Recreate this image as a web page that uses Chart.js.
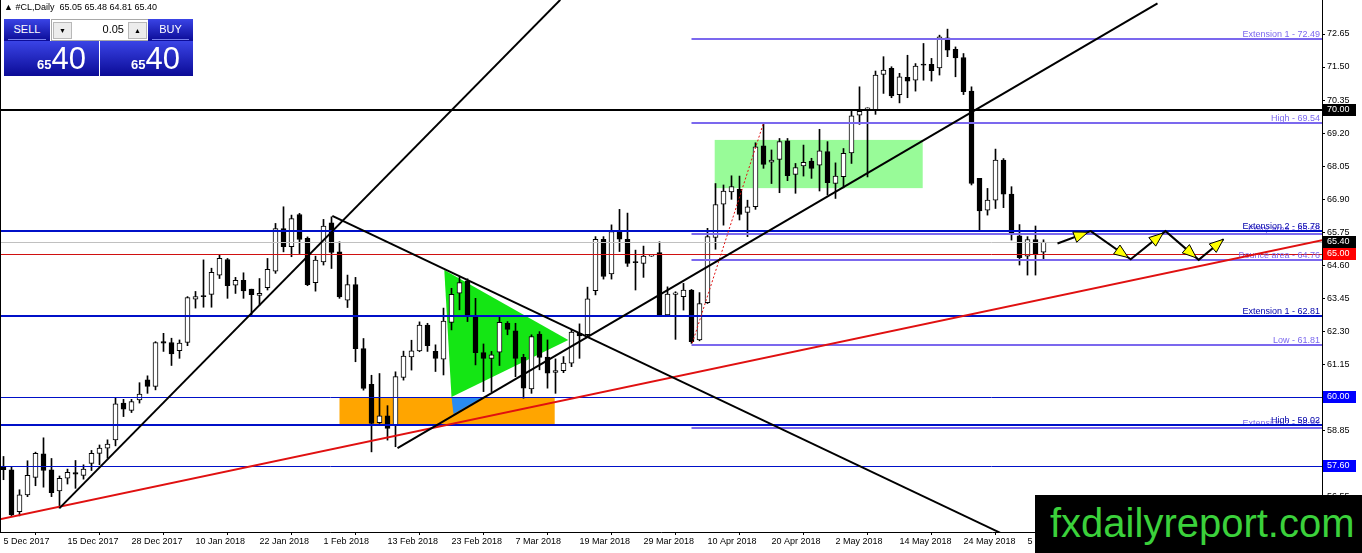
<!DOCTYPE html>
<html>
<head>
<meta charset="utf-8">
<script src="https://cdn.jsdelivr.net/npm/chart.js@4.4.1/dist/chart.umd.min.js"></script>
<style>
  html, body { margin: 0; padding: 0; background: #fff; }
  #wrap { position: relative; width: 1362px; height: 553px; overflow: hidden; font-family: "Liberation Sans", Arial, sans-serif; }
  #chart { position: absolute; left: 0; top: 0; }
  .title { position: absolute; left: 4px; top: 2px; font-size: 9px; color: #000; white-space: pre; }
  .blue { position: absolute; background: linear-gradient(#3a44e6, #0b0b96); color: #fff; }
  .tab { font-size: 11px; text-align: center; line-height: 21px; }
  .tab span { display: block; margin: 0 4px; border-bottom: 1px solid #7a82ee; line-height: 20px; }
  .spin { position: absolute; left: 51px; top: 19px; width: 96px; height: 20px; background: #fff; border: 1px solid #a8a8a8; }
  .btn { position: absolute; top: 2px; width: 17px; height: 15px; background: #ececec; border: 1px solid #b8b8b8; font-size: 7px; text-align: center; line-height: 15px; color: #000; }
  .val { position: absolute; right: 24px; top: 3px; font-size: 11px; color: #000; }
  .price { text-align: right; padding-right: 13px; box-sizing: border-box; line-height: 35px; white-space: nowrap; }
  .price b { font-size: 13px; }
  .price i { font-style: normal; font-size: 31px; }
  .logo { position: absolute; left: 1035px; top: 495px; width: 327px; height: 58px; background: #000; color: #3bd13b; font-size: 40px; line-height: 56px; padding-left: 15px; box-sizing: border-box; }
</style>
</head>
<body>
<div id="wrap">
  <canvas id="chart" width="1362" height="553"></canvas>
  <div class="title">&#9650; #CL,Daily  65.05 65.48 64.81 65.40</div>
  <div class="blue tab" style="left:4px;top:19px;width:46px;height:22px"><span>SELL</span></div>
  <div class="spin">
    <div class="btn" style="left:1px">&#9660;</div>
    <div class="val">0.05</div>
    <div class="btn" style="right:1px">&#9650;</div>
  </div>
  <div class="blue tab" style="left:148px;top:19px;width:45px;height:22px"><span>BUY</span></div>
  <div class="blue price" style="left:4px;top:41px;width:95px;height:35px"><b>65</b><i>40</i></div>
  <div class="blue price" style="left:100px;top:41px;width:93px;height:35px"><b>65</b><i>40</i></div>
  <div class="logo">fxdailyreport.com</div>
</div>
<script>
// #CL daily candles, 5 Dec 2017 - 6 Jun 2018
const dateLabels = ['5 Dec 2017', '15 Dec 2017', '28 Dec 2017', '10 Jan 2018', '22 Jan 2018', '1 Feb 2018',
    '13 Feb 2018', '23 Feb 2018', '7 Mar 2018', '19 Mar 2018', '29 Mar 2018', '10 Apr 2018', '20 Apr 2018',
    '2 May 2018', '14 May 2018', '24 May 2018', '5 Jun 2018'];
const dateIdx = dateLabels.map((d, k) => k * 8);

const opens = [57.55, 57.46, 56.01, 56.59, 57.20, 58.02, 57.46, 56.73, 57.17, 57.37,
    57.27, 57.69, 58.04, 58.22, 58.51, 59.79, 59.53, 59.90, 60.60, 60.37,
    61.93, 61.90, 61.62, 61.90, 63.41, 63.54, 63.58, 64.25, 64.79, 63.90,
    64.07, 63.76, 63.54, 63.81, 64.39, 65.87, 65.24, 66.36, 65.53, 63.99,
    64.71, 66.07, 65.06, 63.38, 63.92, 61.69, 60.44, 59.11, 59.35, 59.02,
    60.68, 61.40, 61.61, 62.51, 61.59, 61.32, 62.60, 63.62, 64.05, 62.83,
    61.55, 61.35, 61.56, 62.57, 62.31, 61.38, 60.28, 62.19, 61.39, 60.86,
    60.92, 61.18, 62.22, 62.17, 63.71, 65.50, 64.29, 65.77, 65.50, 64.70,
    64.66, 64.91, 65.03, 62.86, 63.58, 63.50, 63.73, 61.99, 63.29, 65.56,
    66.72, 67.15, 67.24, 66.43, 66.63, 68.75, 68.18, 68.28, 68.93, 67.76,
    68.05, 68.22, 68.08, 68.55, 67.44, 67.68, 68.51, 69.82, 70.04, 70.00,
    71.24, 71.45, 70.54, 71.14, 71.04, 71.59, 71.59, 71.47, 72.52, 72.12,
    71.83, 70.66, 67.62, 66.51, 66.86, 68.26, 67.07, 65.62, 64.91, 65.49,
    65.05];
const highs = [57.93, 57.58, 56.77, 57.78, 58.08, 58.58, 57.86, 57.25, 57.49, 57.79,
    57.64, 58.14, 58.33, 58.51, 59.96, 59.92, 59.92, 60.50, 60.74, 61.93,
    62.22, 62.05, 61.99, 63.50, 63.68, 64.78, 64.49, 64.95, 64.83, 64.17,
    64.33, 63.76, 64.13, 64.83, 66.05, 66.63, 66.34, 66.40, 65.58, 64.91,
    66.19, 66.28, 65.41, 64.25, 64.17, 62.04, 60.76, 60.82, 59.70, 60.88,
    61.60, 61.98, 62.62, 62.57, 61.82, 63.10, 63.79, 64.18, 64.12, 63.44,
    61.85, 61.59, 62.80, 62.63, 62.57, 61.49, 62.17, 62.28, 61.99, 61.33,
    61.41, 62.34, 62.55, 63.83, 65.59, 65.59, 66.00, 66.54, 66.41, 65.12,
    65.26, 64.93, 65.41, 63.84, 63.67, 63.96, 63.75, 63.64, 65.88, 67.44,
    67.39, 67.71, 67.70, 66.86, 68.86, 69.54, 68.61, 69.01, 69.01, 68.14,
    68.78, 68.32, 69.33, 68.90, 68.16, 68.66, 70.00, 70.81, 70.08, 71.36,
    71.86, 71.51, 71.28, 71.91, 71.62, 72.32, 71.80, 72.61, 72.82, 72.20,
    71.97, 70.81, 67.62, 67.27, 68.64, 68.31, 67.33, 66.01, 65.59, 65.96,
    65.48];
const lows = [57.12, 55.84, 55.86, 56.53, 56.91, 56.86, 56.53, 56.13, 56.97, 56.82,
    57.14, 57.44, 57.64, 57.87, 58.30, 59.32, 59.46, 59.79, 60.13, 60.25,
    61.59, 61.10, 61.35, 61.79, 63.10, 63.13, 63.13, 64.13, 63.44, 63.61,
    63.44, 62.85, 63.20, 63.73, 64.31, 65.06, 64.89, 65.00, 63.88, 63.69,
    64.60, 64.48, 63.44, 63.12, 61.23, 60.24, 58.09, 59.08, 58.50, 58.27,
    60.59, 60.94, 61.58, 61.59, 60.89, 60.77, 62.34, 63.04, 62.63, 61.12,
    60.19, 60.19, 61.10, 62.17, 60.71, 59.96, 60.13, 60.95, 60.31, 60.13,
    60.85, 61.06, 61.35, 62.13, 63.56, 64.11, 64.11, 65.07, 64.55, 63.73,
    64.17, 64.90, 62.82, 62.82, 62.01, 63.03, 61.87, 61.96, 63.26, 65.15,
    65.99, 66.89, 66.17, 65.59, 66.54, 67.97, 67.44, 67.12, 67.54, 67.10,
    67.70, 67.62, 67.18, 67.04, 66.92, 67.29, 68.14, 69.50, 67.67, 69.85,
    70.58, 70.43, 70.25, 70.43, 70.66, 71.04, 71.01, 71.22, 71.86, 71.16,
    70.54, 67.39, 65.82, 66.34, 66.57, 66.60, 65.47, 64.60, 64.25, 64.25,
    64.81];
const closes = [57.47, 55.89, 56.59, 57.27, 58.04, 57.44, 56.67, 57.17, 57.38, 57.31,
    57.49, 58.04, 58.22, 58.36, 59.76, 59.58, 59.84, 60.10, 60.37, 61.90,
    61.88, 61.50, 61.88, 63.47, 63.50, 63.50, 64.35, 64.83, 63.88, 64.07,
    63.70, 63.57, 63.61, 64.45, 65.87, 65.24, 66.22, 65.49, 63.92, 64.77,
    65.96, 65.04, 63.49, 63.92, 61.69, 60.30, 59.08, 59.35, 58.91, 60.71,
    61.43, 61.61, 62.51, 61.79, 61.35, 62.65, 63.58, 63.99, 62.83, 61.55,
    61.35, 61.47, 62.60, 62.36, 61.35, 60.31, 62.11, 61.38, 60.83, 60.92,
    61.18, 62.26, 62.13, 63.42, 65.50, 64.20, 65.77, 65.50, 64.66, 64.68,
    64.91, 64.92, 62.86, 63.59, 63.63, 63.73, 61.93, 63.26, 65.59, 66.71,
    67.18, 67.33, 66.36, 66.63, 68.72, 68.11, 68.26, 68.90, 67.71, 68.00,
    68.18, 67.97, 68.58, 67.47, 67.70, 68.49, 69.80, 69.96, 70.06, 71.22,
    71.39, 70.49, 71.16, 71.01, 71.53, 71.56, 71.37, 72.55, 72.09, 71.82,
    70.64, 67.44, 66.49, 66.86, 68.26, 67.07, 65.67, 64.86, 65.49, 65.00,
    65.40];

const priceTicks = [72.65, 71.50, 70.35, 69.20, 68.05, 66.90, 65.75, 64.60, 63.45, 62.30,
    61.15, 60.00, 58.85, 57.70, 56.55];

// horizontal levels
const resistance = 70.00;
const bidPrice = 65.40;
const alertPrice = 65.00;
const blueLevels = [65.78, 62.81, 59.02];
const blueLabels = ['Extension 2 - 65.78', 'Extension 1 - 62.81', 'High - 59.02'];
const blueThinLevels = [60.00, 57.60];
const fibStart = 86;
const fibLevels = [72.49, 69.54, 65.68, 64.76, 61.81, 58.92];
const fibLabels = ['Extension 1 - 72.49', 'High - 69.54', 'Entry area - 65.68', 'Bounce area - 64.76',
    'Low - 61.81', 'Extension 2 - 58.92'];

// drawn objects, as [bar index, price]
const blackLines = [
    [[7, 56.13], [69.6, 73.84]],
    [[41.1, 66.31], [124.6, 55.27]],
    [[49.25, 58.22], [144.25, 73.72]]
];
const redTrend = [[-0.5, 55.74], [164.9, 65.47]];
const redDotted = [[86.1, 61.88], [95, 69.55]];
const greenTriangle = [[55.1, 64.43], [70.6, 61.99], [56, 60.0]];
const blueTriangle = [[56, 60.0], [60, 60.0], [56.25, 59.41]];
const orangeBox = [[42, 60.0], [68.9, 59.02]];
const greenBox = [[88.9, 68.96], [114.9, 67.28]];
const zigzag = [[131.75, 65.35], [135.9, 65.78], [140.9, 64.8], [145.25, 65.78], [149.4, 64.78], [152.5, 65.5]];

const bodies = opens.map((o, i) => {
    const lo = Math.min(o, closes[i]);
    let hi = Math.max(o, closes[i]);
    if (hi - lo < 0.04) hi = lo + 0.04;
    return { x: i, y: [lo, hi] };
});
const wicks = highs.map((h, i) => ({ x: i, y: [lows[i], h] }));
const bodyColors = opens.map((o, i) => closes[i] >= o ? '#ffffff' : '#000000');

const labelFont = '9px "Liberation Sans", Arial, sans-serif';

function px(chart, pt) {
    return [chart.scales.x.getPixelForValue(pt[0]), chart.scales.y.getPixelForValue(pt[1])];
}

function polygon(ctx, chart, pts, color) {
    ctx.beginPath();
    pts.forEach((p, k) => {
        const [x, y] = px(chart, p);
        if (k === 0) ctx.moveTo(x, y); else ctx.lineTo(x, y);
    });
    ctx.closePath();
    ctx.fillStyle = color;
    ctx.fill();
}

function rect(ctx, chart, box, color) {
    const [x1, y1] = px(chart, box[0]);
    const [x2, y2] = px(chart, box[1]);
    ctx.fillStyle = color;
    ctx.fillRect(x1, y1, x2 - x1, y2 - y1);
}

function segment(ctx, chart, a, b, color, width, dash) {
    const [x1, y1] = px(chart, a);
    const [x2, y2] = px(chart, b);
    ctx.save();
    ctx.strokeStyle = color;
    ctx.lineWidth = width;
    ctx.setLineDash(dash || []);
    ctx.beginPath();
    ctx.moveTo(x1, y1);
    ctx.lineTo(x2, y2);
    ctx.stroke();
    ctx.restore();
}

function hline(ctx, chart, price, fromIdx, color, width) {
    const area = chart.chartArea;
    const y = Math.round(chart.scales.y.getPixelForValue(price)) + (width % 2 ? 0.5 : 0);
    const x1 = fromIdx == null ? area.left : chart.scales.x.getPixelForValue(fromIdx);
    ctx.strokeStyle = color;
    ctx.lineWidth = width;
    ctx.beginPath();
    ctx.moveTo(x1, y);
    ctx.lineTo(area.right, y);
    ctx.stroke();
    return y;
}

function arrowHead(ctx, x1, y1, x2, y2, back) {
    const len = Math.hypot(x2 - x1, y2 - y1);
    const ux = (x2 - x1) / len, uy = (y2 - y1) / len;
    const tx = x2 - ux * back, ty = y2 - uy * back;
    const bx = tx - ux * 14, by = ty - uy * 14;
    ctx.beginPath();
    ctx.moveTo(tx, ty);
    ctx.lineTo(bx - uy * 5.5, by + ux * 5.5);
    ctx.lineTo(bx + uy * 5.5, by - ux * 5.5);
    ctx.closePath();
    ctx.fillStyle = '#ffff00';
    ctx.fill();
    ctx.strokeStyle = '#000';
    ctx.lineWidth = 1;
    ctx.stroke();
}

function priceBox(ctx, chart, price, bg) {
    const y = chart.scales.y.getPixelForValue(price);
    const x = chart.chartArea.right + 1;
    ctx.fillStyle = bg;
    ctx.fillRect(x, Math.round(y) - 6, 33, 12);
    ctx.fillStyle = '#fff';
    ctx.font = '9px "Liberation Sans", Arial, sans-serif';
    ctx.textAlign = 'left';
    ctx.textBaseline = 'middle';
    ctx.fillText(price.toFixed(2), x + 4, Math.round(y));
}

const overlay = {
    id: 'overlay',
    beforeDatasetsDraw(chart) {
        const ctx = chart.ctx, a = chart.chartArea;
        ctx.save();
        ctx.beginPath();
        ctx.rect(a.left, a.top, a.right - a.left, a.bottom - a.top);
        ctx.clip();
        rect(ctx, chart, orangeBox, '#ffa500');
        rect(ctx, chart, greenBox, '#98fb98');
        polygon(ctx, chart, greenTriangle, '#14e614');
        polygon(ctx, chart, blueTriangle, '#2a8cf0');
        ctx.restore();
    },
    afterDatasetsDraw(chart) {
        const ctx = chart.ctx, a = chart.chartArea;
        ctx.save();
        ctx.beginPath();
        ctx.rect(a.left, a.top, a.right - a.left, a.bottom - a.top);
        ctx.clip();

        hline(ctx, chart, bidPrice, null, '#c0c0c0', 1);
        hline(ctx, chart, alertPrice, null, '#d01010', 1);
        blueThinLevels.forEach(v => hline(ctx, chart, v, null, '#0010c8', 1));

        ctx.font = labelFont;
        ctx.textAlign = 'right';
        ctx.textBaseline = 'alphabetic';
        fibLevels.forEach((v, k) => {
            const y = hline(ctx, chart, v, fibStart, '#7b68ee', 2);
            ctx.fillStyle = '#7b68ee';
            ctx.fillText(fibLabels[k], a.right - 2, y - 2);
        });
        blueLevels.forEach((v, k) => {
            const y = hline(ctx, chart, v, null, '#0010c8', 2);
            ctx.fillStyle = '#0000aa';
            ctx.fillText(blueLabels[k], a.right - 2, y - 2);
        });
        hline(ctx, chart, resistance, null, '#000', 2);

        segment(ctx, chart, redTrend[0], redTrend[1], '#e01010', 2);
        segment(ctx, chart, redDotted[0], redDotted[1], '#e01010', 1, [2, 2]);
        blackLines.forEach(l => segment(ctx, chart, l[0], l[1], '#000', 2));

        // zigzag forecast path with yellow arrows
        const pts = zigzag.map(p => px(chart, p));
        ctx.strokeStyle = '#000';
        ctx.lineWidth = 2;
        ctx.beginPath();
        pts.forEach((p, k) => k === 0 ? ctx.moveTo(p[0], p[1]) : ctx.lineTo(p[0], p[1]));
        ctx.stroke();
        for (let k = 1; k < pts.length; k++) {
            arrowHead(ctx, pts[k - 1][0], pts[k - 1][1], pts[k][0], pts[k][1], k === pts.length - 1 ? 0 : 3);
        }
        ctx.restore();
    },
    afterDraw(chart) {
        const ctx = chart.ctx, a = chart.chartArea;
        ctx.save();
        ctx.strokeStyle = '#000';
        ctx.lineWidth = 1;
        ctx.beginPath();
        ctx.moveTo(a.left + 0.5, a.top);
        ctx.lineTo(a.left + 0.5, a.bottom);
        ctx.stroke();
        priceBox(ctx, chart, resistance, '#000');
        priceBox(ctx, chart, bidPrice, '#000');
        priceBox(ctx, chart, alertPrice, '#ff0000');
        blueThinLevels.forEach(v => priceBox(ctx, chart, v, '#0000ff'));
        ctx.restore();
    }
};

const ctx = document.getElementById('chart').getContext('2d');
new Chart(ctx, {
    type: 'bar',
    data: {
        datasets: [{
            label: 'body',
            data: bodies,
            backgroundColor: bodyColors,
            borderColor: '#000',
            borderWidth: 1,
            borderSkipped: false,
            barThickness: 5,
            grouped: false,
            order: 0
        }, {
            label: 'wick',
            data: wicks,
            backgroundColor: '#000',
            borderWidth: 0,
            barThickness: 1,
            grouped: false,
            order: 1
        }]
    },
    options: {
        responsive: false,
        animation: false,
        devicePixelRatio: 1,
        layout: { padding: 0 },
        plugins: {
            legend: { display: false },
            tooltip: { enabled: false },
            title: { display: false }
        },
        scales: {
            x: {
                type: 'linear',
                min: -0.4375,
                max: 164.8125,
                offset: false,
                afterBuildTicks: scale => { scale.ticks = dateIdx.map(v => ({ value: v })); },
                afterFit: scale => {
                    scale.height = 21;
                    scale.paddingLeft = 0;
                    scale.paddingRight = 0;
                },
                grid: { display: true, drawOnChartArea: false, tickLength: 3, color: '#000' },
                border: { display: true, color: '#000' },
                ticks: {
                    autoSkip: false,
                    maxRotation: 0,
                    align: 'start',
                    padding: 1,
                    color: '#000',
                    font: { family: '"Liberation Sans", Arial, sans-serif', size: 9 },
                    callback: (v, i) => dateLabels[i]
                }
            },
            y: {
                position: 'right',
                min: 55.298,
                max: 73.835,
                afterBuildTicks: scale => { scale.ticks = priceTicks.map(v => ({ value: v })); },
                afterFit: scale => {
                    scale.width = 40;
                    scale.paddingTop = 0;
                    scale.paddingBottom = 0;
                },
                grid: { display: true, drawOnChartArea: false, tickLength: 3, color: '#000' },
                border: { display: true, color: '#000' },
                ticks: {
                    padding: 2,
                    color: '#000',
                    font: { family: '"Liberation Sans", Arial, sans-serif', size: 9 },
                    callback: v => v.toFixed(2)
                }
            }
        }
    },
    plugins: [overlay]
});
</script>
</body>
</html>
